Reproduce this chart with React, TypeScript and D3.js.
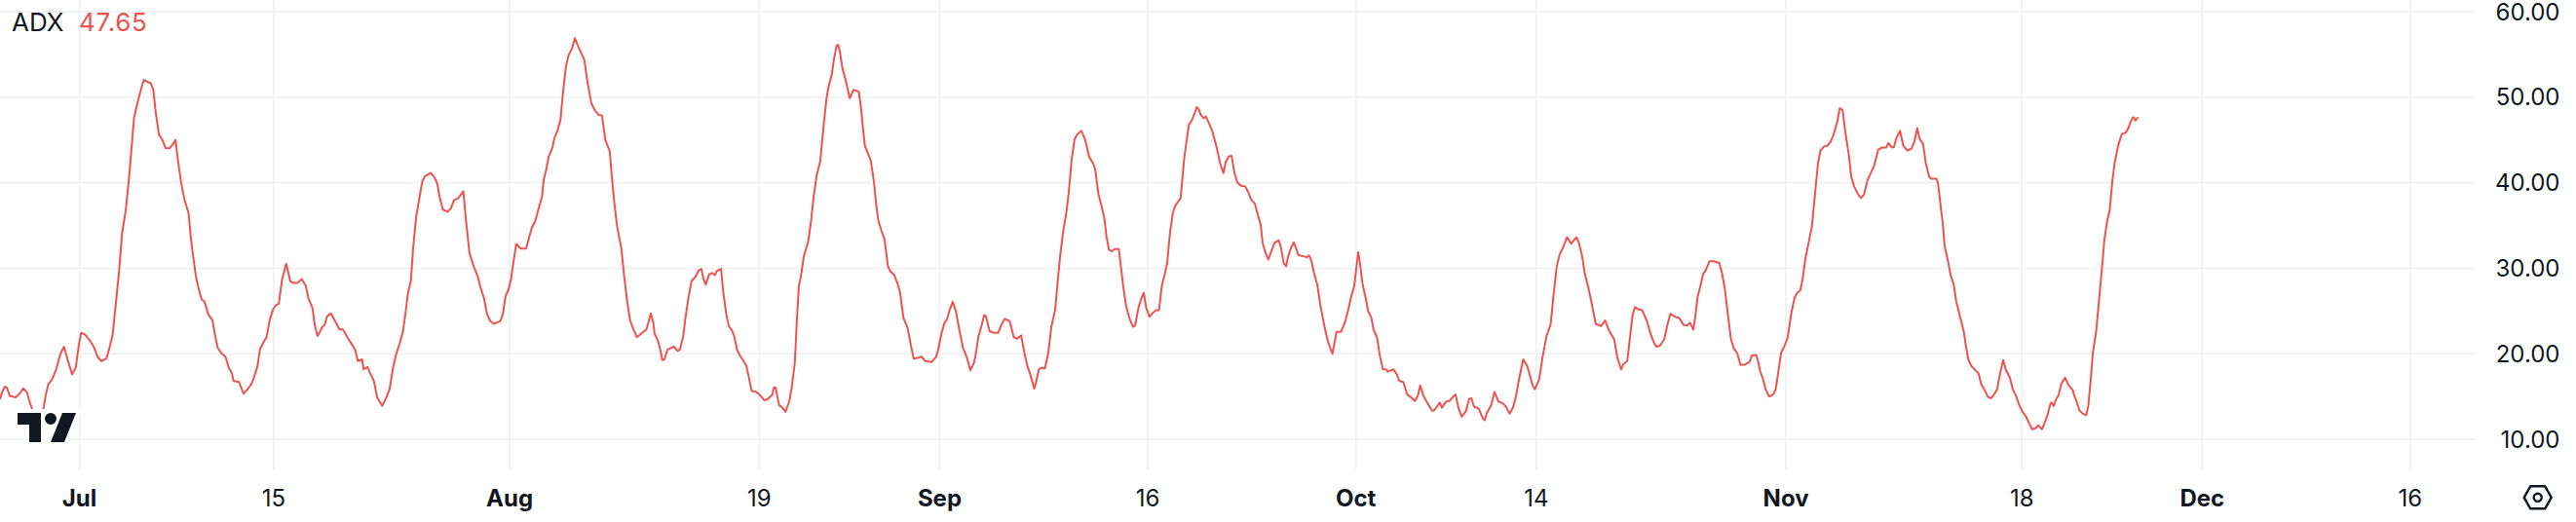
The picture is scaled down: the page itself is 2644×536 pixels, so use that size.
import React from "react";
import { line, scaleLinear, scaleUtc } from "d3";

const DAY_MS = 86400000;
const startDate = Date.UTC(2024, 6, 1);

const indicatorName = "ADX";
const lastValue = "47.65";

const yTicks = [10, 20, 30, 40, 50, 60];

const xTickDates = [
  "2024-07-01", "2024-07-15", "2024-08-01", "2024-08-19", "2024-09-01", "2024-09-16",
  "2024-10-01", "2024-10-14", "2024-11-01", "2024-11-18", "2024-12-01", "2024-12-16",
];
const xTickLabels = ["Jul", "15", "Aug", "19", "Sep", "16", "Oct", "14", "Nov", "18", "Dec", "16"];
const xTickBold = [true, false, true, false, true, false, true, false, true, false, true, false];

// [days since Jul 1, ADX]
const adxPoints: [number, number][] = [
  [-5.73, 14.67], [-5.59, 15.45], [-5.38, 16.15], [-5.23, 16.03], [-5.03, 15.06], [-4.61, 14.9], [-4.32, 15.33], [-4.05, 15.95],
  [-3.78, 15.45], [-3.61, 14.47], [-3.37, 13.31], [-3.02, 12.25], [-2.78, 12.14], [-2.63, 13.31], [-2.42, 15.25], [-2.25, 16.42],
  [-1.98, 17.0], [-1.68, 18.17], [-1.39, 19.92], [-1.12, 20.82], [-0.86, 19.34], [-0.53, 17.59], [-0.27, 18.36], [-0.06, 20.89],
  [0.12, 22.45], [0.41, 22.22], [0.77, 21.48], [1.06, 20.7], [1.3, 19.65], [1.57, 19.14], [1.95, 19.45], [2.19, 20.89],
  [2.39, 22.26], [2.6, 25.56], [2.84, 29.45], [3.07, 34.12], [3.34, 36.85], [3.58, 40.74], [3.78, 44.63], [3.93, 47.55],
  [4.17, 49.3], [4.46, 51.05], [4.64, 52.02], [4.85, 51.83], [5.14, 51.63], [5.32, 50.85], [5.5, 48.13], [5.73, 45.6],
  [5.97, 45.02], [6.21, 44.04], [6.5, 44.04], [6.74, 44.51], [6.92, 45.02], [7.09, 42.68], [7.33, 39.96], [7.57, 38.01],
  [7.86, 36.46], [8.04, 33.34], [8.19, 31.4], [8.39, 29.06], [8.6, 27.51], [8.81, 26.34], [9.02, 26.07], [9.28, 24.59],
  [9.58, 23.93], [9.78, 22.06], [9.96, 20.7], [10.23, 20.04], [10.52, 19.65], [10.76, 18.36], [10.97, 17.78], [11.11, 16.81],
  [11.5, 16.69], [11.82, 15.33], [12.15, 15.91], [12.44, 16.61], [12.65, 17.59], [12.83, 18.56], [13.0, 20.5], [13.24, 21.28],
  [13.48, 21.94], [13.72, 24.0], [13.95, 25.17], [14.13, 25.64], [14.37, 25.84], [14.6, 28.68], [14.9, 30.54], [15.19, 28.48],
  [15.4, 28.29], [15.73, 28.29], [16.02, 28.75], [16.32, 27.9], [16.49, 26.54], [16.79, 25.37], [16.97, 23.23], [17.17, 22.06],
  [17.47, 23.03], [17.68, 23.42], [17.85, 24.4], [18.12, 24.71], [18.36, 24.0], [18.74, 22.84], [18.98, 22.84], [19.33, 21.87],
  [19.63, 21.09], [19.86, 20.5], [20.07, 19.14], [20.37, 19.34], [20.48, 18.17], [20.75, 18.44], [20.99, 17.59], [21.22, 16.81],
  [21.46, 14.86], [21.82, 13.89], [22.11, 14.86], [22.35, 15.84], [22.58, 18.17], [22.79, 19.73], [23.09, 21.28], [23.32, 22.64],
  [23.53, 25.17], [23.68, 27.12], [23.88, 28.48], [24.06, 32.57], [24.27, 36.07], [24.48, 38.01], [24.71, 40.15], [24.89, 40.74],
  [25.3, 41.13], [25.54, 40.74], [25.78, 39.96], [25.95, 38.4], [26.19, 36.85], [26.54, 36.61], [26.78, 37.04], [26.99, 37.94],
  [27.31, 38.21], [27.67, 38.99], [27.85, 35.68], [28.11, 31.79], [28.41, 30.23], [28.7, 29.06], [28.91, 27.7], [29.15, 26.54],
  [29.38, 24.59], [29.62, 23.81], [29.86, 23.5], [30.33, 23.81], [30.51, 24.59], [30.71, 26.73], [30.92, 27.51], [31.1, 28.68],
  [31.27, 30.62], [31.48, 32.84], [31.81, 32.29], [32.19, 32.29], [32.4, 33.54], [32.6, 34.71], [32.84, 35.48], [33.14, 37.24],
  [33.34, 38.4], [33.46, 40.35], [33.64, 41.52], [33.82, 43.07], [34.08, 44.04], [34.23, 45.21], [34.47, 46.18], [34.67, 47.35],
  [34.82, 50.08], [35.06, 53.58], [35.26, 54.94], [35.5, 55.72], [35.71, 56.89], [35.95, 55.91], [36.39, 54.36], [36.59, 52.02],
  [36.89, 49.3], [37.13, 48.52], [37.42, 47.94], [37.66, 47.86], [37.9, 45.02], [38.22, 43.66], [38.37, 40.74], [38.55, 37.62],
  [38.75, 34.9], [39.05, 32.37], [39.26, 29.06], [39.49, 25.95], [39.7, 23.81], [39.93, 22.84], [40.17, 21.94], [40.62, 22.53],
  [40.86, 22.84], [40.97, 23.42], [41.18, 24.71], [41.36, 23.62], [41.45, 22.33], [41.68, 21.59], [41.86, 20.5], [42.01, 19.26],
  [42.16, 19.34], [42.39, 20.5], [42.84, 20.82], [43.1, 20.31], [43.28, 20.5], [43.52, 22.06], [43.66, 24.01], [43.87, 26.34],
  [44.11, 28.48], [44.4, 28.99], [44.64, 29.76], [44.82, 29.92], [44.99, 28.68], [45.14, 28.09], [45.38, 29.26], [45.59, 29.45],
  [45.79, 29.18], [45.94, 29.65], [46.24, 29.92], [46.41, 27.12], [46.62, 24.59], [46.8, 23.23], [46.98, 22.84], [47.18, 22.14],
  [47.39, 20.5], [47.6, 19.8], [47.83, 19.22], [48.07, 18.56], [48.25, 17.2], [48.45, 15.64], [48.75, 15.56], [49.04, 15.17],
  [49.37, 14.55], [49.58, 14.67], [49.93, 15.17], [50.05, 16.03], [50.17, 16.03], [50.43, 13.97], [50.67, 13.69], [50.88, 13.19],
  [51.17, 14.47], [51.35, 16.22], [51.56, 18.95], [51.71, 24.01], [51.85, 27.9], [52.0, 29.06], [52.21, 31.4], [52.53, 33.15],
  [52.74, 35.68], [52.92, 38.4], [53.12, 40.74], [53.39, 42.49], [53.63, 46.57], [53.83, 49.69], [53.98, 51.17], [54.22, 52.61],
  [54.39, 54.55], [54.57, 56.03], [54.69, 56.11], [54.81, 55.33], [54.99, 53.38], [55.22, 52.02], [55.52, 49.88], [55.78, 50.85],
  [56.17, 50.66], [56.32, 48.91], [56.46, 46.57], [56.61, 44.32], [56.82, 43.46], [57.03, 42.61], [57.26, 40.15], [57.44, 37.24],
  [57.59, 35.48], [57.82, 34.32], [58.03, 33.34], [58.27, 30.23], [58.44, 29.65], [58.71, 29.26], [58.95, 28.29], [59.15, 27.12],
  [59.39, 24.2], [59.69, 23.03], [59.89, 21.28], [60.13, 19.41], [60.48, 19.53], [60.69, 19.65], [60.96, 19.14], [61.43, 19.03],
  [61.73, 19.61], [61.9, 20.5], [62.11, 22.25], [62.35, 23.62], [62.52, 24.01], [62.73, 25.17], [62.94, 26.07], [63.17, 24.98],
  [63.41, 22.84], [63.68, 20.7], [63.97, 19.53], [64.21, 18.05], [64.48, 18.95], [64.62, 20.11], [64.8, 22.06], [65.01, 23.23],
  [65.21, 24.51], [65.33, 24.4], [65.6, 22.64], [65.89, 22.45], [66.22, 22.45], [66.46, 23.42], [66.69, 24.08], [67.05, 23.81],
  [67.34, 21.94], [67.58, 21.75], [67.87, 22.14], [68.11, 20.11], [68.32, 18.56], [68.53, 17.59], [68.82, 15.91], [68.94, 16.61],
  [69.15, 18.17], [69.35, 18.36], [69.59, 18.29], [69.83, 20.11], [70.06, 23.23], [70.33, 25.17], [70.54, 29.06], [70.71, 31.79],
  [70.92, 34.51], [71.13, 36.46], [71.3, 38.79], [71.51, 42.68], [71.72, 45.02], [71.89, 45.6], [72.22, 46.07], [72.49, 45.02],
  [72.78, 42.99], [73.05, 42.29], [73.22, 41.52], [73.43, 38.79], [73.67, 37.24], [73.87, 35.87], [74.02, 33.73], [74.2, 32.18],
  [74.41, 31.98], [74.61, 32.25], [74.91, 32.25], [75.09, 29.84], [75.26, 27.51], [75.44, 25.56], [75.71, 24.01], [75.94, 23.15],
  [76.09, 23.31], [76.33, 25.37], [76.51, 26.34], [76.71, 27.12], [76.89, 25.37], [77.13, 24.32], [77.36, 24.78], [77.6, 25.1],
  [77.81, 25.1], [78.01, 27.9], [78.22, 29.26], [78.4, 30.62], [78.6, 34.12], [78.81, 36.46], [78.96, 37.24], [79.2, 37.82],
  [79.37, 38.21], [79.64, 43.07], [79.96, 46.77], [80.17, 47.27], [80.38, 48.13], [80.53, 48.83], [80.67, 48.6], [80.82, 47.94],
  [81.03, 47.55], [81.2, 47.74], [81.62, 46.18], [81.95, 44.24], [82.21, 42.29], [82.45, 41.13], [82.6, 42.29], [82.83, 43.07],
  [83.04, 43.15], [83.25, 41.13], [83.45, 40.04], [83.72, 39.65], [84.02, 39.57], [84.22, 38.99], [84.46, 38.01], [84.72, 37.55],
  [84.96, 36.07], [85.14, 35.1], [85.28, 32.96], [85.49, 31.79], [85.7, 31.01], [85.9, 31.98], [86.14, 32.96], [86.44, 33.27],
  [86.61, 32.37], [86.79, 30.62], [86.97, 30.23], [87.12, 31.4], [87.32, 32.37], [87.53, 33.03], [87.68, 32.37], [87.86, 31.52],
  [88.21, 31.4], [88.45, 31.28], [88.63, 31.48], [88.8, 30.82], [88.98, 29.45], [89.22, 28.09], [89.45, 25.56], [89.78, 22.84],
  [90.01, 21.28], [90.31, 20.0], [90.46, 21.28], [90.61, 22.57], [90.93, 22.57], [91.2, 23.62], [91.46, 25.17], [91.64, 26.54],
  [91.88, 27.9], [92.02, 29.84], [92.17, 31.87], [92.29, 30.62], [92.47, 28.29], [92.73, 26.34], [92.88, 24.98], [93.12, 24.2],
  [93.27, 22.84], [93.53, 21.87], [93.71, 19.92], [93.95, 18.17], [94.18, 18.17], [94.3, 17.9], [94.71, 18.17], [94.95, 17.59],
  [95.13, 16.81], [95.42, 16.69], [95.69, 15.25], [95.99, 14.86], [96.25, 14.47], [96.46, 15.06], [96.64, 16.3], [96.87, 15.06],
  [97.17, 14.2], [97.52, 13.31], [97.67, 13.42], [98.05, 14.28], [98.2, 13.69], [98.5, 14.4], [98.73, 14.47], [99.18, 15.25],
  [99.39, 13.69], [99.62, 12.65], [99.92, 13.23], [100.18, 14.75], [100.33, 14.78], [100.51, 13.81], [100.86, 13.58], [101.16, 12.41],
  [101.28, 12.22], [101.45, 13.11], [101.75, 13.97], [101.99, 15.52], [102.28, 14.4], [102.58, 14.2], [102.81, 13.81], [103.08, 13.0],
  [103.32, 13.69], [103.52, 14.86], [103.76, 17.0], [104.06, 19.34], [104.35, 18.56], [104.56, 17.39], [104.71, 16.42], [104.91, 15.84],
  [105.21, 17.0], [105.45, 19.53], [105.74, 22.06], [106.04, 23.42], [106.24, 26.73], [106.48, 30.23], [106.69, 31.6], [106.92, 32.37],
  [107.22, 33.62], [107.51, 32.88], [107.9, 33.62], [108.08, 32.96], [108.31, 31.4], [108.49, 29.45], [108.76, 27.7], [108.99, 25.95],
  [109.29, 23.5], [109.67, 23.23], [109.97, 23.89], [110.23, 22.76], [110.62, 21.67], [110.85, 19.53], [111.12, 18.17], [111.27, 18.75],
  [111.56, 19.14], [111.74, 21.67], [111.95, 24.59], [112.13, 25.45], [112.39, 25.17], [112.63, 25.1], [112.98, 23.81], [113.22, 22.45],
  [113.43, 21.48], [113.66, 20.82], [113.93, 20.97], [114.22, 21.67], [114.46, 23.42], [114.67, 24.67], [115.05, 24.28], [115.29, 24.2],
  [115.64, 23.34], [115.88, 23.31], [116.09, 23.62], [116.32, 22.84], [116.44, 24.01], [116.62, 26.54], [116.83, 27.9], [117.03, 29.34],
  [117.18, 29.65], [117.5, 30.82], [117.8, 30.82], [118.19, 30.62], [118.39, 29.45], [118.6, 27.51], [118.83, 24.4], [119.04, 21.67],
  [119.25, 20.58], [119.49, 20.04], [119.72, 18.68], [120.08, 18.75], [120.37, 19.03], [120.55, 19.8], [120.85, 19.84], [120.96, 19.34],
  [121.14, 17.97], [121.35, 17.0], [121.55, 15.76], [121.79, 14.98], [122.09, 15.25], [122.26, 15.84], [122.44, 17.78], [122.65, 20.11],
  [122.89, 20.89], [123.12, 21.87], [123.39, 24.78], [123.62, 26.54], [123.8, 27.12], [124.04, 27.43], [124.21, 28.87], [124.39, 31.01],
  [124.63, 32.96], [124.87, 34.9], [125.1, 38.79], [125.31, 42.29], [125.49, 43.77], [125.75, 44.24], [125.99, 44.32], [126.22, 44.82],
  [126.43, 45.6], [126.7, 47.16], [126.88, 48.71], [127.08, 48.52], [127.29, 45.8], [127.53, 43.27], [127.7, 40.74], [127.91, 39.57],
  [128.21, 38.6], [128.41, 38.21], [128.62, 38.6], [128.89, 40.35], [129.06, 40.93], [129.36, 42.02], [129.65, 43.85], [129.92, 44.12],
  [130.22, 44.12], [130.39, 44.63], [130.63, 44.12], [130.78, 44.16], [130.96, 45.21], [131.22, 46.07], [131.46, 44.32], [131.75, 43.77],
  [132.05, 43.97], [132.26, 44.82], [132.46, 46.38], [132.64, 45.09], [132.88, 44.55], [133.08, 42.29], [133.31, 40.74], [133.46, 40.47],
  [133.84, 40.47], [133.96, 39.96], [134.15, 37.24], [134.3, 35.29], [134.44, 32.57], [134.68, 30.82], [134.86, 29.26], [135.09, 28.09],
  [135.27, 26.15], [135.51, 24.59], [135.81, 22.64], [135.99, 20.7], [136.14, 19.34], [136.37, 18.56], [136.64, 18.09], [136.88, 17.7],
  [137.08, 16.42], [137.32, 15.76], [137.54, 14.98], [137.77, 14.78], [137.98, 15.17], [138.22, 15.84], [138.42, 17.59], [138.66, 19.26],
  [138.84, 18.17], [139.14, 17.2], [139.35, 15.84], [139.56, 15.17], [139.79, 14.08], [140.09, 13.11], [140.3, 12.65], [140.53, 11.87],
  [140.75, 11.17], [140.99, 11.28], [141.19, 11.63], [141.46, 11.17], [141.7, 12.14], [141.87, 12.92], [142.05, 14.08], [142.14, 14.28],
  [142.3, 13.89], [142.47, 14.67], [142.65, 15.14], [142.83, 16.42], [143.12, 17.2], [143.33, 16.42], [143.66, 15.76], [143.84, 14.86],
  [143.96, 14.36], [144.14, 13.42], [144.38, 13.0], [144.64, 12.8], [144.79, 13.89], [144.97, 17.0], [145.12, 20.11], [145.35, 22.45],
  [145.57, 26.34], [145.81, 30.62], [145.95, 33.34], [146.13, 35.29], [146.34, 36.85], [146.51, 39.96], [146.69, 42.29], [146.93, 44.24],
  [147.2, 45.68], [147.5, 45.87], [147.68, 46.38], [147.8, 46.96], [147.97, 47.55], [148.06, 47.66], [148.18, 47.27], [148.39, 47.65],
];

const W = 2644;
const H = 536;
const plotRight = 2541;
const plotBottom = 482;
const font = "Inter, sans-serif";
const textColor = "#131722";
const lineColor = "#ef5350";
const gridColor = "#f1f2f4";

const xScale = scaleUtc()
  .domain([new Date("2024-07-01"), new Date("2024-12-16")])
  .range([81.6, 2473.9]);

const yScale = scaleLinear().domain([10, 60]).range([451, 12]);

const adxLine = line<[number, number]>()
  .x((d) => xScale(new Date(startDate + d[0] * DAY_MS)))
  .y((d) => yScale(d[1]));

export default function App() {
  return (
    <svg
      width={W}
      height={H}
      viewBox={`0 0 ${W} ${H}`}
      style={{ position: "fixed", left: 0, top: 0, background: "#fff", fontFamily: font }}
    >
      {/* Grid */}
      {yTicks.map((t) => (
        <line key={t} x1={0} x2={plotRight} y1={yScale(t)} y2={yScale(t)} stroke={gridColor} strokeWidth={2} />
      ))}
      {xTickDates.map((d) => {
        const x = xScale(new Date(d));
        return <line key={d} x1={x} x2={x} y1={0} y2={plotBottom} stroke={gridColor} strokeWidth={2} />;
      })}

      {/* ADX */}
      <path d={adxLine(adxPoints) ?? ""} fill="none" stroke={lineColor} strokeWidth={2} strokeLinejoin="round" />

      {/* Legend */}
      <text x={12} y={32} fontSize={26} fill={textColor}>{indicatorName}</text>
      <text x={81} y={32} fontSize={26} letterSpacing={0.7} fill={lineColor}>{lastValue}</text>

      {/* Logo */}
      <g transform="translate(14,420) scale(2)">
        <path
          fill="#fff"
          fillRule="evenodd"
          d="M2 0H0v10h6v9h21.4l.5-1.3 6-15 1-2.7H23.7l-.5 1.3-.2.6a5 5 0 0 0-7-.9V0H2Z"
        />
        <path
          fill={textColor}
          fillRule="evenodd"
          d="M14 2H2v6h6v9h6V2Zm12 15h-7l6-15h7l-6 15Zm-7-9a3 3 0 1 0 0-6 3 3 0 0 0 0 6Z"
        />
      </g>

      {/* Y axis */}
      {yTicks.map((t) => (
        <text key={t} x={2627.5} y={yScale(t)} dy="0.36em" textAnchor="end" fontSize={24} fill={textColor}>
          {t.toFixed(2)}
        </text>
      ))}

      {/* X axis */}
      {xTickDates.map((d, i) => (
        <text
          key={d}
          x={xScale(new Date(d))}
          y={520}
          textAnchor="middle"
          fontSize={24}
          fontWeight={xTickBold[i] ? 700 : 400}
          fill={textColor}
        >
          {xTickLabels[i]}
        </text>
      ))}

      {/* Settings */}
      <g transform="translate(2604.7,510.8)" fill="none" stroke={textColor} strokeWidth={2.4}>
        <path d="M-14,0 L-7.5,-11.5 L7.5,-11.5 L14,0 L7.5,11.5 L-7.5,11.5 Z" strokeLinejoin="round" />
        <circle r={4} />
      </g>
    </svg>
  );
}
